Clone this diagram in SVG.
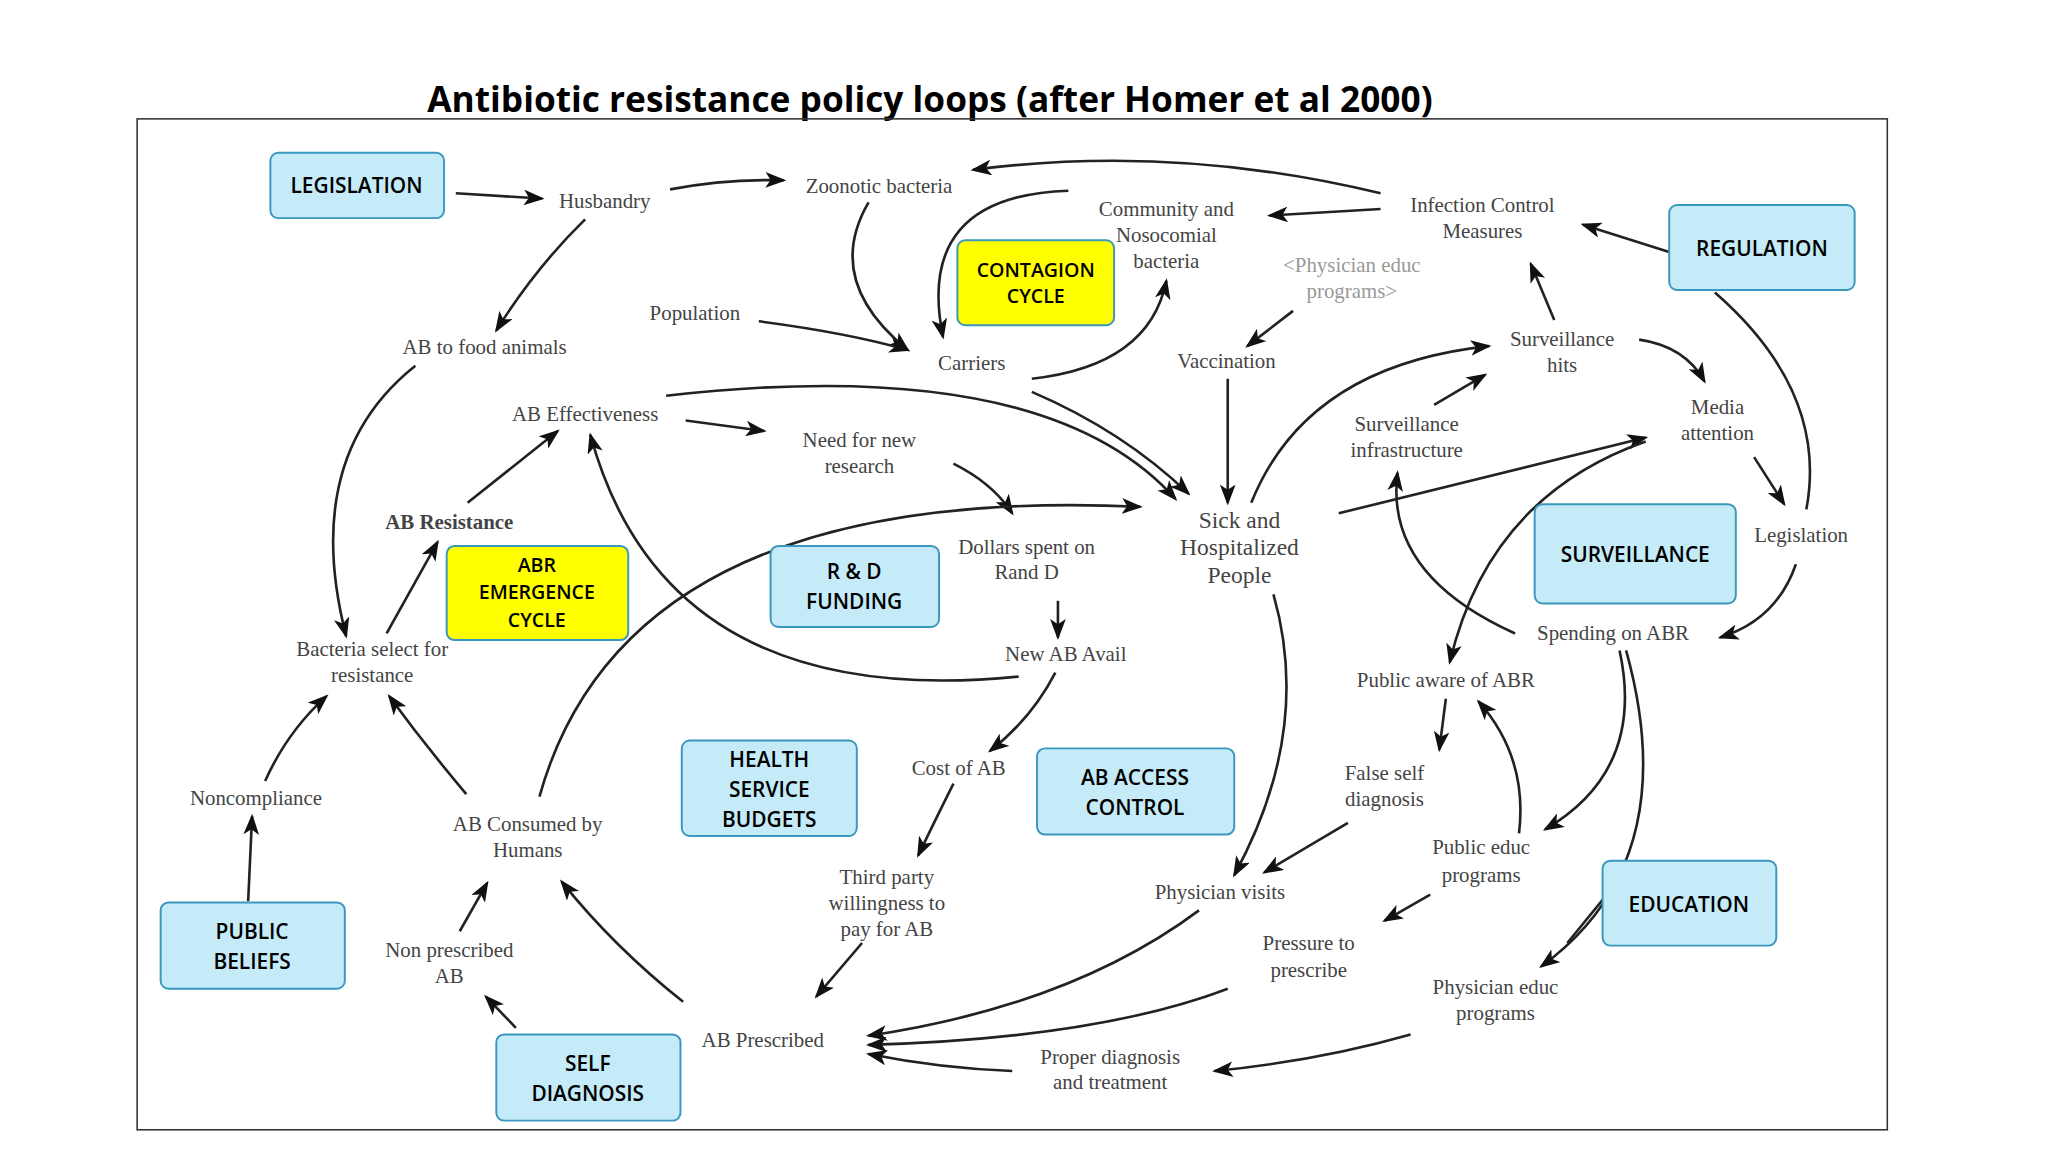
<svg xmlns="http://www.w3.org/2000/svg" width="2048" height="1152" viewBox="0 0 2048 1152">
<style>
.n{font-family:"Liberation Serif",serif;font-size:16px;fill:#444;text-anchor:middle}
.b{font-family:"Open Sans","Liberation Sans",sans-serif;font-size:16px;font-weight:600;fill:#000;text-anchor:middle}
.bx{fill:#c5ebf8;stroke:#3a97bd;stroke-width:1.5}
.yx{fill:#ffff00;stroke:#3a97bd;stroke-width:1.5}
#conn path{fill:none;stroke:#222;stroke-width:2}
</style>
<defs>
<marker id="a" markerWidth="16" markerHeight="12" refX="14" refY="6" orient="auto" markerUnits="userSpaceOnUse">
<path d="M0,0 L16,6 L0,12 L4,6 Z" fill="#111"/>
</marker>
</defs>
<rect width="2048" height="1152" fill="#fff"/>
<g transform="scale(1.3061)">
<text x="712" y="86" font-family="Open Sans,Liberation Sans,sans-serif" font-size="27" font-weight="700" text-anchor="middle" fill="#000">Antibiotic resistance policy loops (after Homer et al 2000)</text>
<rect x="105" y="91" width="1340" height="774" fill="none" stroke="#333" stroke-width="1.2"/>
<g id="conn">
<path marker-end="url(#a)" d="M349,148 L415,152"/>
<path marker-end="url(#a)" d="M513,145 Q555,137 600,138"/>
<path marker-end="url(#a)" d="M448,168 Q410,205 380,253"/>
<path marker-end="url(#a)" d="M665,155 Q630,215 695,268"/>
<path marker-end="url(#a)" d="M818,146 Q700,150 722,258"/>
<path marker-end="url(#a)" d="M1057,148 Q900,110 745,130"/>
<path marker-end="url(#a)" d="M1057,160 L972,165"/>
<path marker-end="url(#a)" d="M581,246 Q650,255 695,268"/>
<path marker-end="url(#a)" d="M790,290 Q880,280 893,215"/>
<path marker-end="url(#a)" d="M990,238 L955,265"/>
<path marker-end="url(#a)" d="M790,300 Q860,330 910,378"/>
<path marker-end="url(#a)" d="M940,290 L940,385"/>
<path marker-end="url(#a)" d="M318,280 Q230,350 265,487"/>
<path marker-end="url(#a)" d="M296,485 L335,415"/>
<path marker-end="url(#a)" d="M358,385 L427,330"/>
<path marker-end="url(#a)" d="M525,322 L585,330"/>
<path marker-end="url(#a)" d="M510,303 Q800,270 900,382"/>
<path marker-end="url(#a)" d="M730,355 Q760,370 775,393"/>
<path marker-end="url(#a)" d="M413,610 Q480,370 873,388"/>
<path marker-end="url(#a)" d="M780,518 Q510,545 452,333"/>
<path marker-end="url(#a)" d="M810,460 L810,488"/>
<path marker-end="url(#a)" d="M808,515 Q790,550 758,575"/>
<path marker-end="url(#a)" d="M730,600 Q715,630 703,655"/>
<path marker-end="url(#a)" d="M660,722 L625,763"/>
<path marker-end="url(#a)" d="M958,385 Q1000,280 1140,265"/>
<path marker-end="url(#a)" d="M1190,245 L1172,202"/>
<path marker-end="url(#a)" d="M1255,260 Q1290,265 1305,292"/>
<path marker-end="url(#a)" d="M1098,310 L1137,287"/>
<path marker-end="url(#a)" d="M1025,393 L1260,335"/>
<path marker-end="url(#a)" d="M1343,350 L1366,386"/>
<path marker-end="url(#a)" d="M1278,193 L1212,172"/>
<path d="M1313,224 Q1400,300 1383,390"/>
<path marker-end="url(#a)" d="M1375,432 Q1360,475 1317,488"/>
<path marker-end="url(#a)" d="M1160,485 Q1060,440 1070,362"/>
<path marker-end="url(#a)" d="M1260,338 Q1140,380 1110,507"/>
<path marker-end="url(#a)" d="M1107,535 L1102,574"/>
<path marker-end="url(#a)" d="M1163,638 Q1170,580 1132,537"/>
<path marker-end="url(#a)" d="M1240,498 Q1260,590 1183,635"/>
<path marker-end="url(#a)" d="M1245,498 Q1290,660 1180,740"/>
<path d="M1227,689 L1200,722"/>
<path marker-end="url(#a)" d="M1032,630 L968,668"/>
<path marker-end="url(#a)" d="M975,455 Q1005,560 945,670"/>
<path marker-end="url(#a)" d="M1095,685 L1060,705"/>
<path marker-end="url(#a)" d="M918,697 Q820,770 665,793"/>
<path marker-end="url(#a)" d="M940,757 Q840,795 665,800"/>
<path marker-end="url(#a)" d="M1080,792 Q1010,812 930,820"/>
<path marker-end="url(#a)" d="M775,820 Q720,818 665,807"/>
<path marker-end="url(#a)" d="M523,767 Q470,725 430,675"/>
<path marker-end="url(#a)" d="M395,787 L372,763"/>
<path marker-end="url(#a)" d="M352,713 L373,676"/>
<path marker-end="url(#a)" d="M357,608 Q325,570 298,533"/>
<path marker-end="url(#a)" d="M203,598 Q220,560 250,533"/>
<path marker-end="url(#a)" d="M190,690 L193,625"/>
</g>
<g id="nodes">
<text class="n" x="463" y="159">Husbandry</text>
<text class="n" x="673" y="148">Zoonotic bacteria</text>
<text class="n" x="893" y="165">Community and<tspan x="893" dy="20">Nosocomial</tspan><tspan x="893" dy="20">bacteria</tspan></text>
<text class="n" x="1135" y="162">Infection Control<tspan x="1135" dy="20">Measures</tspan></text>
<text class="n" x="1035" y="208" fill="#888" style="fill:#999">&lt;Physician educ<tspan x="1035" dy="20">programs&gt;</tspan></text>
<text class="n" x="532" y="245">Population</text>
<text class="n" x="371" y="271">AB to food animals</text>
<text class="n" x="744" y="283">Carriers</text>
<text class="n" x="939" y="282">Vaccination</text>
<text class="n" x="1196" y="265">Surveillance<tspan x="1196" dy="20">hits</tspan></text>
<text class="n" x="1077" y="330">Surveillance<tspan x="1077" dy="20">infrastructure</tspan></text>
<text class="n" x="1315" y="317">Media<tspan x="1315" dy="20">attention</tspan></text>
<text class="n" x="448" y="322">AB Effectiveness</text>
<text class="n" x="658" y="342">Need for new<tspan x="658" dy="20">research</tspan></text>
<text class="n" x="344" y="405" style="font-weight:bold">AB Resistance</text>
<text class="n" x="949" y="404" style="font-size:18px">Sick and<tspan x="949" dy="21">Hospitalized</tspan><tspan x="949" dy="21">People</tspan></text>
<text class="n" x="786" y="424">Dollars spent on<tspan x="786" dy="19">Rand D</tspan></text>
<text class="n" x="1379" y="415">Legislation</text>
<text class="n" x="285" y="502">Bacteria select for<tspan x="285" dy="20">resistance</tspan></text>
<text class="n" x="816" y="506">New AB Avail</text>
<text class="n" x="1235" y="490">Spending on ABR</text>
<text class="n" x="1107" y="526">Public aware of ABR</text>
<text class="n" x="734" y="593">Cost of AB</text>
<text class="n" x="1060" y="597">False self<tspan x="1060" dy="20">diagnosis</tspan></text>
<text class="n" x="196" y="616">Noncompliance</text>
<text class="n" x="404" y="636">AB Consumed by<tspan x="404" dy="20">Humans</tspan></text>
<text class="n" x="1134" y="654">Public educ<tspan x="1134" dy="21">programs</tspan></text>
<text class="n" x="679" y="677">Third party<tspan x="679" dy="20">willingness to</tspan><tspan x="679" dy="20">pay for AB</tspan></text>
<text class="n" x="934" y="688">Physician visits</text>
<text class="n" x="344" y="733">Non prescribed<tspan x="344" dy="20">AB</tspan></text>
<text class="n" x="1002" y="727">Pressure to<tspan x="1002" dy="21">prescribe</tspan></text>
<text class="n" x="1145" y="761">Physician educ<tspan x="1145" dy="20">programs</tspan></text>
<text class="n" x="584" y="802">AB Prescribed</text>
<text class="n" x="850" y="815">Proper diagnosis<tspan x="850" dy="19">and treatment</tspan></text>
</g>
<g id="LEGISLATION"><rect class="bx" x="207" y="117" width="133" height="50" rx="6"/><text class="b" x="273" y="148">LEGISLATION</text></g>
<g id="REGULATION"><rect class="bx" x="1278" y="157" width="142" height="65" rx="6"/><text class="b" x="1349" y="196">REGULATION</text></g>
<g id="CONTAGION"><rect class="yx" x="733" y="184" width="120" height="65" rx="6"/><text class="b" x="793" y="212" style="font-size:15px">CONTAGION<tspan x="793" dy="20">CYCLE</tspan></text></g>
<g id="ABR"><rect class="yx" x="342" y="418" width="139" height="72" rx="6"/><text class="b" x="411" y="438" style="font-size:15px">ABR<tspan x="411" dy="21">EMERGENCE</tspan><tspan x="411" dy="21">CYCLE</tspan></text></g>
<g id="RD"><rect class="bx" x="590" y="418" width="129" height="62" rx="6"/><text class="b" x="654" y="443">R &amp; D<tspan x="654" dy="23">FUNDING</tspan></text></g>
<g id="SURVEILLANCE"><rect class="bx" x="1175" y="386" width="154" height="76" rx="6"/><text class="b" x="1252" y="430">SURVEILLANCE</text></g>
<g id="HSB"><rect class="bx" x="522" y="567" width="134" height="73" rx="6"/><text class="b" x="589" y="587">HEALTH<tspan x="589" dy="23">SERVICE</tspan><tspan x="589" dy="23">BUDGETS</tspan></text></g>
<g id="ABAC"><rect class="bx" x="794" y="573" width="151" height="66" rx="6"/><text class="b" x="869" y="601">AB ACCESS<tspan x="869" dy="23">CONTROL</tspan></text></g>
<g id="PB"><rect class="bx" x="123" y="691" width="141" height="66" rx="6"/><text class="b" x="193" y="719">PUBLIC<tspan x="193" dy="23">BELIEFS</tspan></text></g>
<g id="EDU"><rect class="bx" x="1227" y="659" width="133" height="65" rx="6"/><text class="b" x="1293" y="698">EDUCATION</text></g>
<g id="SD"><rect class="bx" x="380" y="792" width="141" height="66" rx="6"/><text class="b" x="450" y="820">SELF<tspan x="450" dy="23">DIAGNOSIS</tspan></text></g>
</g>
</svg>
